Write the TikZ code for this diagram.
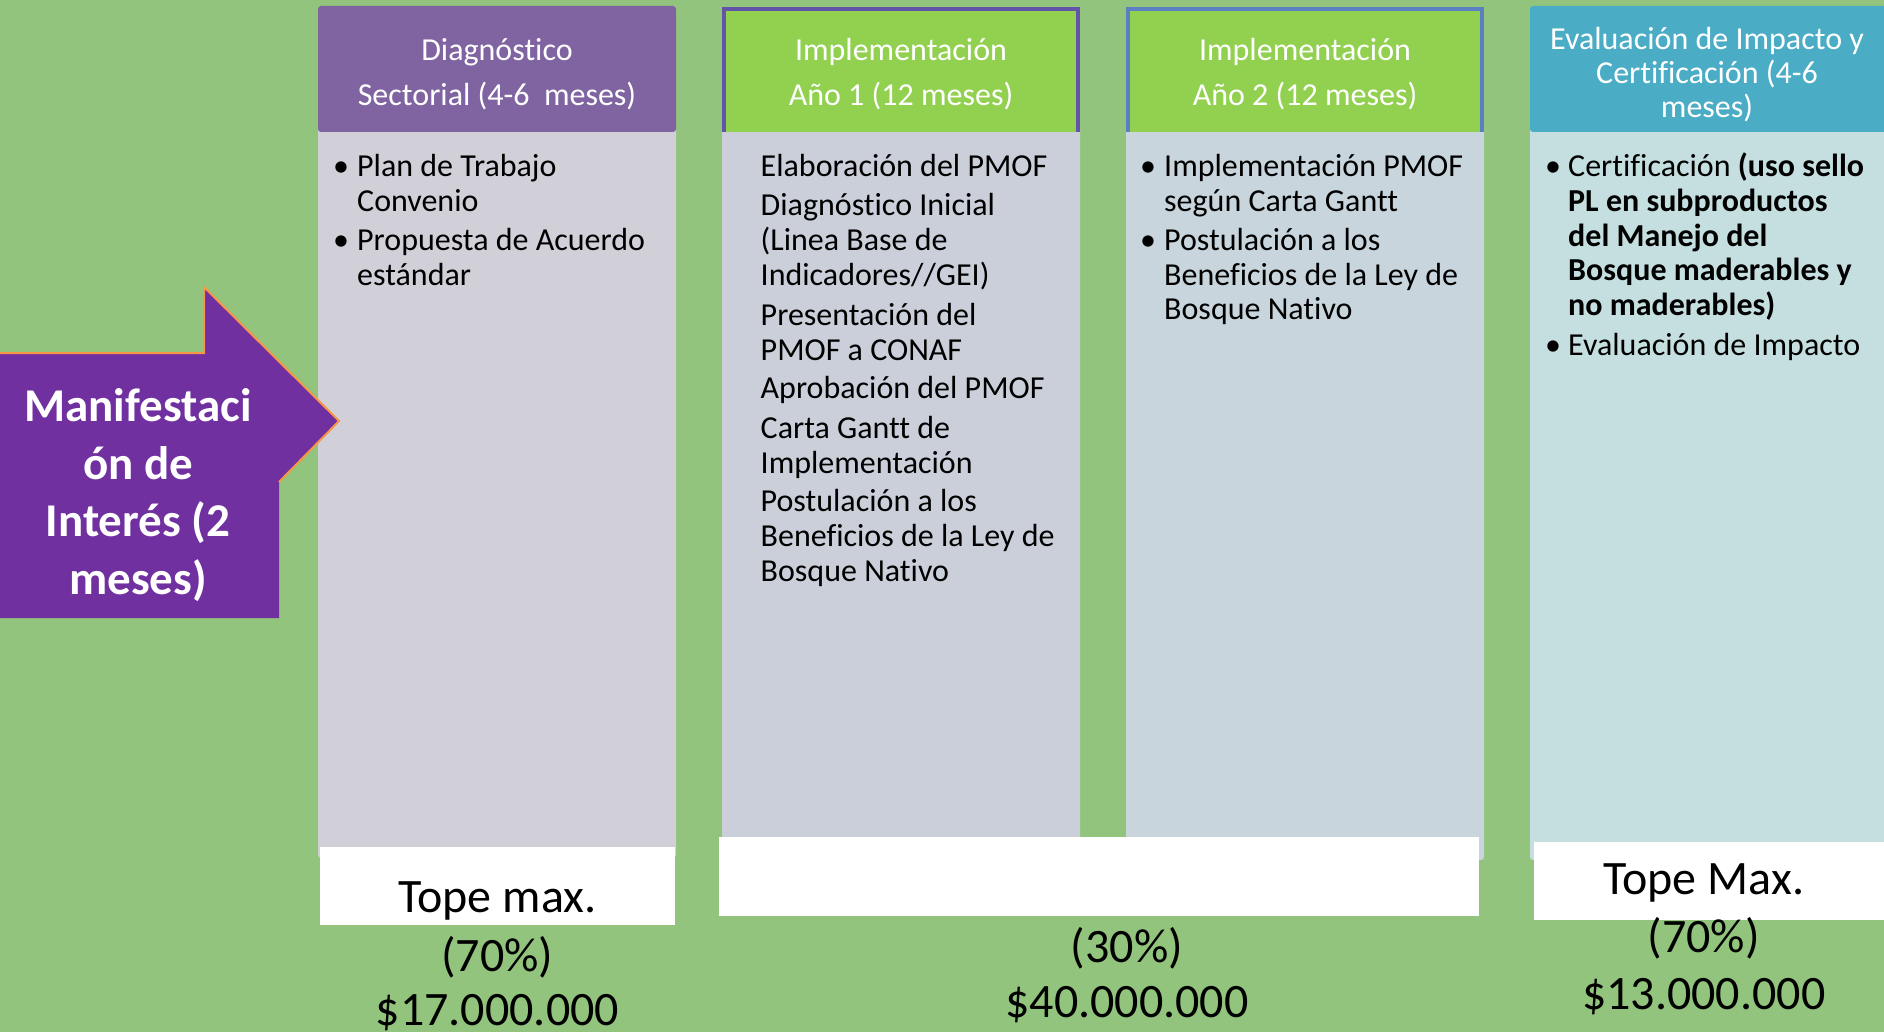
\documentclass[tikz,border=0pt]{standalone}
\usepackage{fontspec}
\setmainfont[Ligatures=NoCommon]{Carlito}
\definecolor{bg}{HTML}{93C47D}
\definecolor{hdpurple}{HTML}{8064A2}
\definecolor{hdgreen}{HTML}{92D050}
\definecolor{hdteal}{HTML}{4BACC6}
\definecolor{bd1}{HTML}{D1D0D8}
\definecolor{bd2}{HTML}{CACFD9}
\definecolor{bd3}{HTML}{C8D5DC}
\definecolor{bd4}{HTML}{C5DEDF}
\definecolor{edgeA}{HTML}{6254A8}
\definecolor{edgeB}{HTML}{5A80C2}
\definecolor{arrowpurple}{HTML}{7030A0}
\definecolor{arroworange}{HTML}{F79646}
\tikzset{
  hdtext/.style={text=white, align=center, inner sep=0pt, font=\fontsize{32}{44.5}\selectfont},
  bodyline/.style={anchor=mid west, inner sep=0pt, yshift=-9.6pt, font=\fontsize{32}{35}\selectfont},
  bulletmark/.style={anchor=mid west, inner sep=0pt, yshift=-9.6pt, font=\fontsize{32}{35}\selectfont},
  money/.style={anchor=mid, inner sep=0pt, yshift=-14.5pt, font=\fontsize{48}{56}\selectfont},
  whitebox/.style={fill=white},
}
\begin{document}
\begin{tikzpicture}[x=1pt,y=-1pt]
\useasboundingbox (0,0) rectangle (1884,1032);
\fill[bg] (0,0) rectangle (1884,1032);

% bodies
\fill[bd1, rounded corners=3pt] (318,126) rectangle (676,858);
\fill[bd2, rounded corners=3pt] (722,126) rectangle (1080,842);
\fill[bd3, rounded corners=3pt] (1126,126) rectangle (1484,860);
\fill[bd4, rounded corners=3pt] (1530,126) rectangle (1900,860);

% headers
\fill[hdpurple, rounded corners=3pt] (318,6) rectangle (676,132);
\fill[hdgreen] (722,8) rectangle (1080,132);
\draw[edgeA, line width=4pt] (724,132) -- (724,9) -- (1078,9) -- (1078,132);
\fill[hdgreen] (1126,8) rectangle (1484,132);
\draw[edgeB, line width=4pt] (1128,132) -- (1128,9) -- (1482,9) -- (1482,132);
\fill[hdteal, rounded corners=3pt] (1530,6) rectangle (1900,132);

\node[hdtext] (h1) at (497,74) {Diagnóstico\\Sectorial (4-6~~meses)};
\node[hdtext] (h2) at (901,74) {Implementación\\Año 1 (12 meses)};
\node[hdtext] (h3) at (1305,74) {Implementación\\Año 2 (12 meses)};
\node[hdtext, font=\fontsize{32}{34}\selectfont] (h4) at (1707,75) {Evaluación de Impacto y\\Certificación (4-6\\meses)};

% column 1 body
\node[bulletmark] (b1a) at (333,164.6) {•};
\node[bodyline] (t1a) at (357,164.6) {Plan de Trabajo};
\node[bodyline] (t1b) at (357,199.4) {Convenio};
\node[bulletmark] (b1b) at (333,239) {•};
\node[bodyline] (t1c) at (357,239) {Propuesta de Acuerdo};
\node[bodyline] (t1d) at (357,274) {estándar};

% column 2 body
\node[bodyline] (t2a) at (760.5,164.6) {Elaboración del PMOF};
\node[bodyline] (t2b) at (760.5,204) {Diagnóstico Inicial};
\node[bodyline] (t2c) at (760.5,239) {(Linea Base de};
\node[bodyline] (t2d) at (760.5,274) {Indicadores//GEI)};
\node[bodyline] (t2e) at (760.5,313.6) {Presentación del};
\node[bodyline] (t2f) at (760.5,348.4) {PMOF a CONAF};
\node[bodyline] (t2g) at (760.5,387) {Aprobación del PMOF};
\node[bodyline] (t2h) at (760.5,426.5) {Carta Gantt de};
\node[bodyline] (t2i) at (760.5,461.4) {Implementación};
\node[bodyline] (t2j) at (760.5,500) {Postulación a los};
\node[bodyline] (t2k) at (760.5,534.7) {Beneficios de la Ley de};
\node[bodyline] (t2l) at (760.5,569.5) {Bosque Nativo};

% column 3 body
\node[bulletmark] (b3a) at (1140,164.6) {•};
\node[bodyline] (t3a) at (1164,164.6) {Implementación PMOF};
\node[bodyline] (t3b) at (1164,199.4) {según Carta Gantt};
\node[bulletmark] (b3b) at (1140,239) {•};
\node[bodyline] (t3c) at (1164,239) {Postulación a los};
\node[bodyline] (t3d) at (1164,274) {Beneficios de la Ley de};
\node[bodyline] (t3e) at (1164,307.6) {Bosque Nativo};

% column 4 body
\node[bulletmark] (b4a) at (1545,164.6) {•};
\node[bodyline] (t4a) at (1568,164.6) {Certificación \textbf{(uso sello}};
\node[bodyline, font=\fontsize{32}{35}\selectfont\bfseries] (t4b) at (1568,199.4) {PL en subproductos};
\node[bodyline, font=\fontsize{32}{35}\selectfont\bfseries] (t4c) at (1568,234.3) {del Manejo del};
\node[bodyline, font=\fontsize{32}{35}\selectfont\bfseries] (t4d) at (1568,269) {Bosque maderables y};
\node[bodyline, font=\fontsize{32}{35}\selectfont\bfseries] (t4e) at (1568,304) {no maderables)};
\node[bulletmark] (b4b) at (1545,343.6) {•};
\node[bodyline] (t4f) at (1568,343.6) {Evaluación de Impacto};

% white boxes
\fill[whitebox] (320,847) rectangle (675,925);
\fill[whitebox] (718.5,837) rectangle (1479,915.5);
\fill[whitebox] (1534,842) rectangle (1884,920);

% money texts
\node[money] (m1a) at (497.4,896) {Tope max.};
\node[money] (m1b) at (497.4,955) {(70\%)};
\node[money] (m1c) at (497.4,1009) {\$17.000.000};
\node[money] (m2b) at (1127,945.6) {(30\%)};
\node[money] (m2c) at (1127,1001) {\$40.000.000};
\node[money] (m3a) at (1703.7,878) {Tope Max.};
\node[money] (m3b) at (1703.7,936) {(70\%)};
\node[money] (m3c) at (1703.7,992.4) {\$13.000.000};

% arrow
\fill[arrowpurple] (0,353) -- (204,353) -- (204,287) -- (339,421) -- (279,482) -- (279,618) -- (0,618) -- cycle;
\draw[arroworange, line width=2pt, line join=miter] (0,353) -- (204,353) -- (204,287) -- (339,421) -- (279,482);
\node[text=white, align=center, inner sep=0pt, font=\fontsize{47}{57.7}\selectfont\bfseries] (arr) at (138,495) {Manifestaci\\ón de\\Interés (2\\meses)};
\end{tikzpicture}
\end{document}
